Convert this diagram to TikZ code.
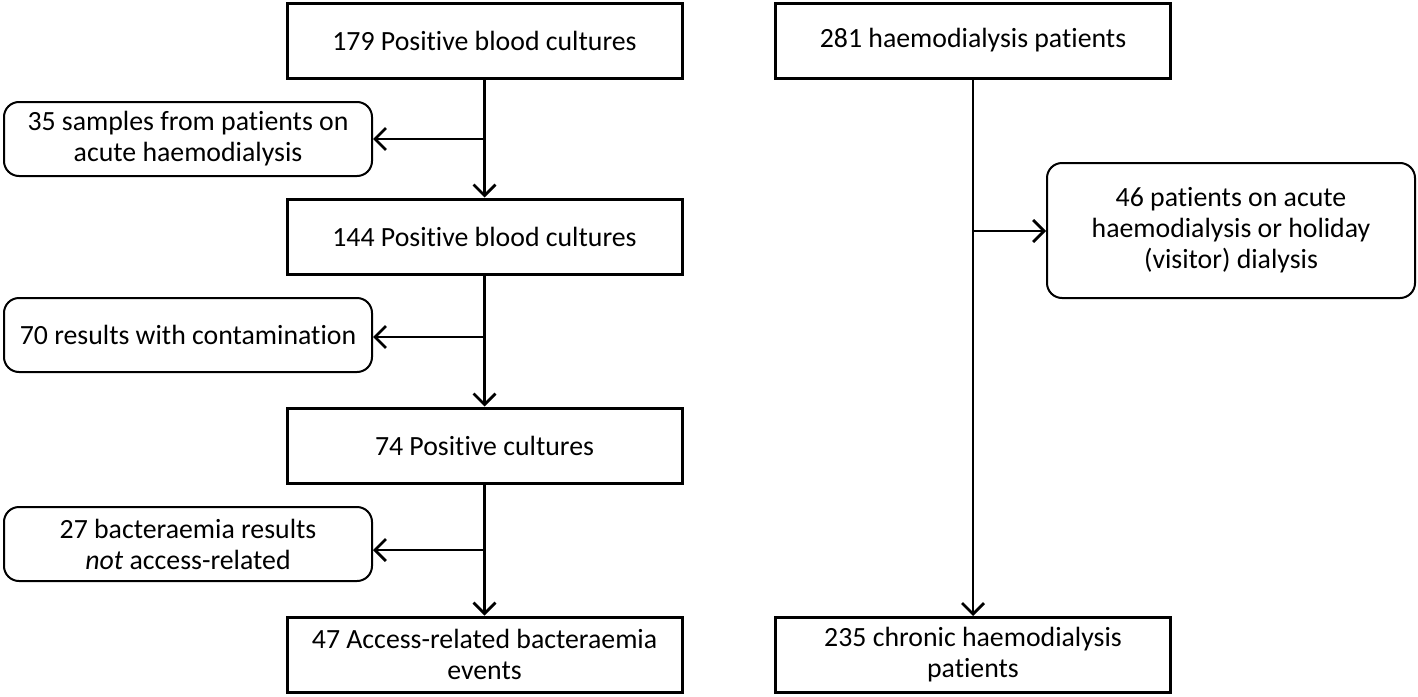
\documentclass[tikz,border=0pt]{standalone}
\usepackage{fontspec}
\setmainfont{Carlito}[Ligatures=NoCommon]
\usetikzlibrary{arrows.meta}
\tikzset{
  mainbox/.style = {draw=black, line width=3pt, align=center, inner sep=0pt,
    minimum width=395pt, minimum height=75pt, font=\fontsize{27.8}{31}\selectfont},
  sidebox/.style = {mainbox, rounded corners=15pt, line width=2pt,
    minimum width=368pt, minimum height=74pt},
  flow/.style = {line width=2.7pt, -{Straight Barb[length=11pt,width=22pt]}}
}

\begin{document}
\begin{tikzpicture}[x=1pt, y=-1pt]
	\useasboundingbox (0,0) rectangle (1418,696);
	% left column
	\node [mainbox] (b179) at (484.5,40.5) {179 Positive blood cultures};
	\node [mainbox] (b144) at (484.5,236.5) {144 Positive blood cultures};
	\node [mainbox] (b74)  at (484.5,445.5) {74 Positive cultures};
	\node [mainbox] (b47)  at (484.5,654.5) {47 Access-related bacteraemia\\events};
	\node [sidebox] (s35) at (188,139) {35 samples from patients on\\acute haemodialysis};
	\node [sidebox] (s70) at (188,335) {70 results with contamination};
	\node [sidebox] (s27) at (188,544) {27 bacteraemia results\\\textit{not} access-related};
	% right column
	\node [mainbox] (r281) at (973,40.5) {281 haemodialysis patients};
	\node [mainbox] (r235) at (973,655) {235 chronic haemodialysis\\patients};
	\node [sidebox, minimum height=135pt] (r46) at (1231,230.5) {46 patients on acute\\haemodialysis or holiday\\(visitor) dialysis};
	% arrows
	\draw [flow] (b179) -- (b144);
	\draw [flow] (b144) -- (b74);
	\draw [flow] (b74) -- (b47);
	\draw [flow] (r281) -- (r235);
	\coordinate (j35) at (484.5,139);
	\coordinate (j70) at (484.5,337);
	\coordinate (j27) at (484.5,550);
	\coordinate (j46) at (973,231);
	\draw [flow] (j35) -- (j35 -| s35.east);
	\draw [flow] (j70) -- (j70 -| s70.east);
	\draw [flow] (j27) -- (j27 -| s27.east);
	\draw [flow] (j46) -- (j46 -| r46.west);
\end{tikzpicture}
\end{document}
